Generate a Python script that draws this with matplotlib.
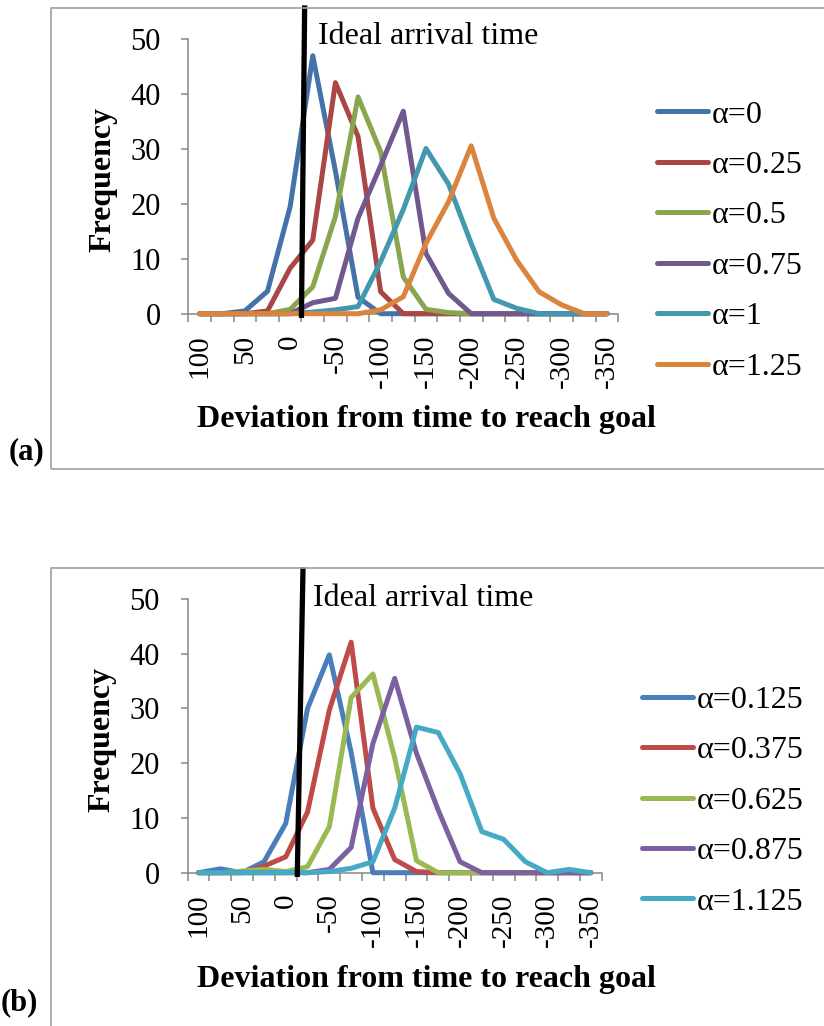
import numpy as np
import matplotlib
matplotlib.use("Agg")
from matplotlib import pyplot as plt
from matplotlib.patches import Rectangle
from matplotlib.lines import Line2D

plt.rcParams['font.family'] = ['Liberation Serif', 'DejaVu Serif']

# deviation bins (category axis, every other bin labelled)
deviation = [100, 75, 50, 25, 0, -25, -50, -75, -100, -125, -150,
             -175, -200, -225, -250, -275, -300, -325, -350]
tick_labels = [str(d) for d in deviation[::2]]

# (a) frequencies per alpha
alpha_a = ['0', '0.25', '0.5', '0.75', '1', '1.25']
freq_a0 = [0, 0, 0.5, 4.1, 19.5, 47, 26, 3, 0, 0, 0, 0, 0, 0, 0, 0, 0, 0, 0]
freq_a025 = [0, 0, 0, 0.5, 8.3, 13.4, 42.1, 32.3, 4.0, 0, 0, 0, 0, 0, 0, 0, 0, 0, 0]
freq_a05 = [0, 0, 0, 0, 0.8, 4.9, 17.7, 39.5, 29.5, 6.7, 0.8, 0.2, 0, 0, 0, 0, 0, 0, 0]
freq_a075 = [0, 0, 0, 0, 0, 2.0, 2.8, 17.4, 27, 36.9, 11.0, 3.7, 0, 0, 0, 0, 0, 0, 0]
freq_a1 = [0, 0, 0, 0, 0, 0.3, 0.7, 1.3, 9.5, 19, 30.1, 23.6, 12.8, 2.6, 1.0, 0, 0, 0, 0]
freq_a125 = [0, 0, 0, 0, 0, 0, 0, 0, 0.7, 3.1, 12.8, 20.4, 30.6, 17.4, 9.8, 4.0, 1.6, 0, 0]
colors_a = ['#4572A7', '#AA4643', '#89A54E', '#71588F', '#4198AF', '#DB843D']

# (b) frequencies per alpha
alpha_b = ['0.125', '0.375', '0.625', '0.875', '1.125']
freq_b0125 = [0, 0.7, 0, 2.0, 9.0, 30.0, 39.8, 22, 0, 0, 0, 0, 0, 0, 0, 0, 0, 0, 0]
freq_b0375 = [0, 0, 0, 1.2, 2.9, 11.1, 29.7, 42.1, 11.8, 2.4, 0.2, 0, 0, 0, 0, 0, 0, 0, 0]
freq_b0625 = [0, 0, 0.3, 0.6, 0.2, 1.1, 8.4, 32.0, 36.3, 21, 2.2, 0, 0, 0, 0, 0, 0, 0, 0]
freq_b0875 = [0, 0, 0, 0, 0, 0, 0.6, 4.6, 23.6, 35.5, 21.8, 11.4, 2.0, 0, 0, 0, 0, 0, 0]
freq_b1125 = [0, 0, 0, 0, 0, 0, 0.2, 0.8, 2.0, 11.8, 26.6, 25.6, 18.1, 7.5, 6.1, 2.0, 0, 0.6, 0]
colors_b = ['#4A7EBB', '#BE4B48', '#98B954', '#7D60A0', '#46AAC5']

# hand-drawn "ideal arrival" marker: (category position, frequency) at both ends
ideal_a = ([4.5, 4.64], [-0.3, 55.7])
ideal_b = ([4.53, 4.79], [-0.3, 55.3])

W, H = 824, 1026
fig = plt.figure(figsize=(W / 100, H / 100), dpi=100)
grey = '#868686'
LW = 3.6


def fx(x):
    return x / W


def fy(y):
    return 1 - y / H


def draw_panel(box, series, labels, colors, ideal, leg_x, leg_y, text_xy,
               ylab_xy, xlab_xy, tag, tag_xy, frame_top, frame_bottom):
    left, right, top, bottom = box
    ax = fig.add_axes([fx(left), fy(bottom), fx(right - left), (bottom - top) / H])
    x = np.arange(len(deviation))
    handles = []
    for vals, lab, col in zip(series, labels, colors):
        ax.plot(x, vals, color=col, lw=LW, solid_joinstyle='round',
                solid_capstyle='round', clip_on=False, zorder=3)
        handles.append(Line2D([], [], color=col, lw=LW, solid_capstyle='round',
                              label='α=' + lab))
    ax.plot(ideal[0], ideal[1], color='black', lw=3.8, clip_on=False, zorder=5)

    ax.set_xlim(-0.5, len(deviation) - 0.5)
    ax.set_ylim(0, 50)
    ax.set_xticks(x[::2])
    ax.set_xticklabels(tick_labels, rotation=90)
    ax.set_xticks(np.arange(-0.5, len(deviation), 1), minor=True)
    ax.tick_params(axis='x', which='major', length=0, pad=15, labelsize=21)
    ax.tick_params(axis='x', which='minor', length=6, width=1.1, color=grey)
    ax.set_yticks(np.arange(0, 51, 10))
    ax.tick_params(axis='y', length=5, width=1.1, color=grey, pad=15, labelsize=22)
    for s in ('top', 'right'):
        ax.spines[s].set_visible(False)
    for s in ('left', 'bottom'):
        ax.spines[s].set_color(grey)
        ax.spines[s].set_linewidth(1.1)
    ax.set_facecolor('none')

    fig.legend(handles=handles, loc='center left',
               bbox_to_anchor=(fx(leg_x), fy(leg_y)), frameon=False,
               borderpad=0, borderaxespad=0, handlelength=1.6,
               handletextpad=0.1, labelspacing=0.66, fontsize=23)

    fig.text(fx(text_xy[0]), fy(text_xy[1]), 'Ideal arrival time',
             fontsize=23, ha='left', va='center')
    fig.text(fx(ylab_xy[0]), fy(ylab_xy[1]), 'Frequency', fontsize=23,
             fontweight='bold', rotation=90, ha='center', va='center')
    fig.text(fx(xlab_xy[0]), fy(xlab_xy[1]), 'Deviation from time to reach goal',
             fontsize=23, fontweight='bold', ha='center', va='center')
    fig.text(fx(tag_xy[0]), fy(tag_xy[1]), tag, fontsize=22,
             fontweight='bold', ha='left', va='center')

    fig.add_artist(Rectangle((fx(51), fy(frame_bottom)), fx(W + 20 - 51),
                             (frame_bottom - frame_top) / H, fill=False,
                             edgecolor='#A0A0A0', lw=1.2,
                             transform=fig.transFigure))
    return ax


draw_panel((188.3, 618.3, 39.3, 313.7),
           [freq_a0, freq_a025, freq_a05, freq_a075, freq_a1, freq_a125],
           alpha_a, colors_a, ideal_a, 657, 241, (318, 37), (102.5, 179),
           (426, 420), '(a)', (9, 452), 8, 469)

draw_panel((187.7, 601.7, 599, 872.7),
           [freq_b0125, freq_b0375, freq_b0625, freq_b0875, freq_b1125],
           alpha_b, colors_b, ideal_b, 642, 801, (312.7, 598), (102, 739),
           (426, 979), '(b)', (1, 1003), 568, H + 20)

fig.savefig('out.png', dpi=100)
